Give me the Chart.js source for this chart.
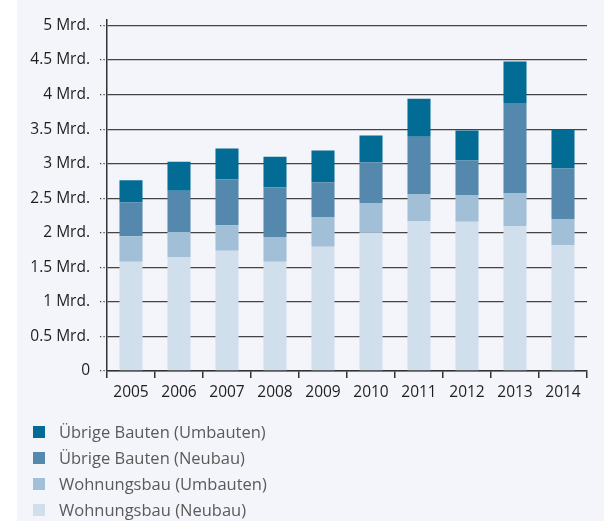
<!DOCTYPE html>
<html><head><meta charset="utf-8">
<script src="https://cdn.jsdelivr.net/npm/chart.js@4"></script>
<style>
html,body{margin:0;padding:0;background:#fff;}
#wrap{position:absolute;left:0;top:0;width:604px;height:521px;}
#bg{position:absolute;left:17px;top:0;width:587px;height:521px;background:#f4f5fa;}
canvas{position:absolute;left:0;top:0;}
</style></head><body>
<div id="wrap"><div id="bg"></div><canvas id="c" width="604" height="521"></canvas></div>
<script>
const years = ['2005','2006','2007','2008','2009','2010','2011','2012','2013','2014'];
const wohnNeubau   = [1.58,1.65,1.74,1.58,1.80,2.00,2.17,2.16,2.10,1.82];
const wohnUmbauten = [0.37,0.36,0.37,0.36,0.43,0.43,0.39,0.38,0.47,0.38];
const uebrNeubau   = [0.49,0.60,0.66,0.72,0.50,0.59,0.83,0.51,1.31,0.73];
const uebrUmbauten = [0.32,0.42,0.45,0.44,0.46,0.39,0.55,0.43,0.60,0.56];
const yTicks = [0,0.5,1,1.5,2,2.5,3,3.5,4,4.5,5];
const seriesNames = ['Wohnungsbau (Neubau)','Wohnungsbau (Umbauten)','Übrige Bauten (Neubau)','Übrige Bauten (Umbauten)'];
const seriesColors = ['#d0dfeb','#a1bfd6','#5488ac','#036c94'];
const seriesData = [wohnNeubau, wohnUmbauten, uebrNeubau, uebrUmbauten];

const FONT = '"Open Sans", "Noto Sans", sans-serif';

const legendPlugin = {
  id: 'vlegend',
  afterDraw(chart) {
    const ctx = chart.ctx;
    const ds = chart.data.datasets.slice().reverse();
    ctx.save();
    ctx.font = '16.5px ' + FONT;
    ctx.textBaseline = 'middle';
    ds.forEach((d, i) => {
      const y = 432 + i * 26;
      ctx.fillStyle = d.backgroundColor;
      ctx.fillRect(33, y - 6, 12, 12);
      ctx.fillStyle = '#5a5a5a';
      ctx.fillText(d.label, 59, y + 1);
    });
    ctx.restore();
  }
};

new Chart(document.getElementById('c'), {
  type: 'bar',
  data: {
    labels: years,
    datasets: seriesData.map((d, i) => ({
      label: seriesNames[i],
      data: d,
      backgroundColor: seriesColors[i],
      borderWidth: 0,
      barPercentage: 0.48,
      categoryPercentage: 1
    }))
  },
  options: {
    responsive: false,
    animation: false,
    devicePixelRatio: 1,
    layout: { padding: { left: 0, top: 17, right: 17, bottom: 116 } },
    plugins: { legend: { display: false }, tooltip: { enabled: false } },
    scales: {
      x: {
        stacked: true,
        afterFit(s) { s.height = 34; },
        grid: { display: true, drawOnChartArea: false, drawTicks: true, tickLength: 7, offset: true, color: '#333', lineWidth: 1.5 },
        border: { display: true, color: '#333', width: 1.5 },
        ticks: { color: '#1e1e1e', font: { family: FONT, size: 15.5 }, padding: 5, maxRotation: 0 }
      },
      y: {
        stacked: true,
        min: 0,
        max: 5.09,
        afterFit(s) { s.width = 107; },
        afterBuildTicks(s) { s.ticks = yTicks.map(v => ({ value: v })); },
        grid: { color: '#444', lineWidth: 1.3, borderDash: [1.3, 2.1], tickBorderDash: [1.3, 2.1], tickLength: 7, drawTicks: true },
        border: { display: true, color: '#333', width: 1.5 },
        ticks: {
          color: '#1e1e1e', font: { family: FONT, size: 15.5 }, padding: 10,
          callback: v => v === 0 ? '0' : String(v) + ' Mrd.'
        }
      }
    }
  },
  plugins: [legendPlugin]
});
</script>
</body></html>
